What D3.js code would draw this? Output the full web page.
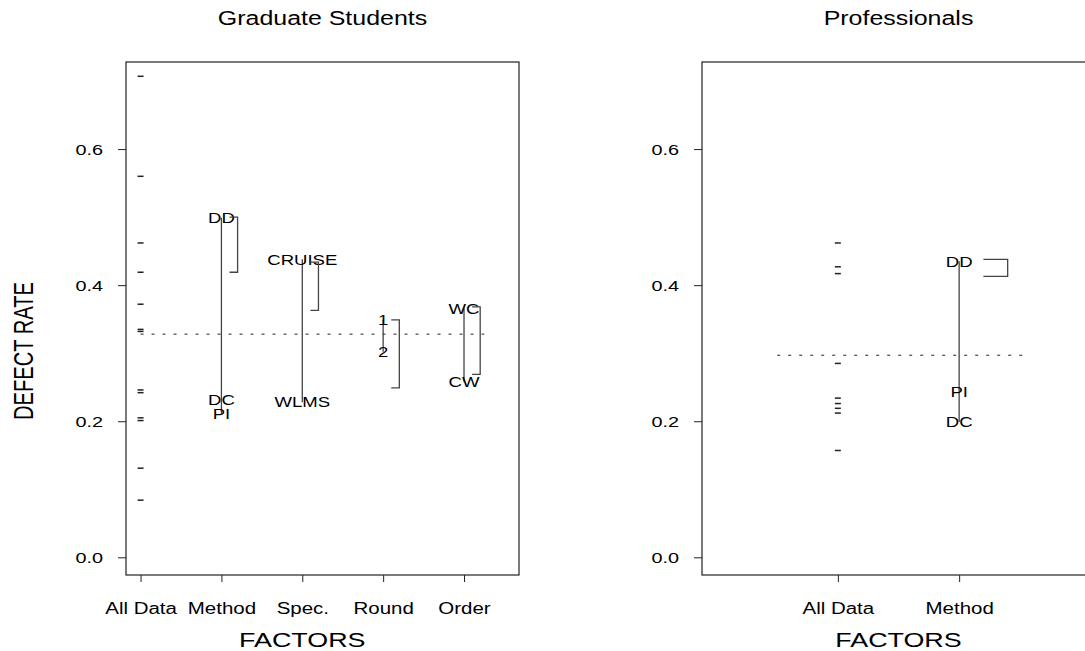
<!DOCTYPE html>
<html>
<head>
<meta charset="utf-8">
<script src="https://cdn.jsdelivr.net/npm/d3@7"></script>
<style>
  body { margin: 0; background: #fff; }
  svg { display: block; }
  text { font-family: "Liberation Sans", Arial, Helvetica, sans-serif; fill: #000; }
</style>
</head>
<body>
<script>
// design plot data
var gradFactors = ["All Data", "Method", "Spec.", "Round", "Order"];
var gradAllData = [0.707, 0.560, 0.462, 0.419, 0.372, 0.335, 0.332, 0.246, 0.242, 0.205, 0.201, 0.131, 0.084];
var gradLevelNames = [["DD", "DC", "PI"], ["CRUISE", "WLMS"], ["1", "2"], ["WC", "CW"]];
var gradLevelMeans = [[0.499, 0.231, 0.211], [0.438, 0.228], [0.349, 0.302], [0.366, 0.258]];
var gradBrackets = [[0.500, 0.419], [0.434, 0.363], [0.349, 0.249], [0.368, 0.269]];
var gradMean = 0.328;

var profFactors = ["All Data", "Method"];
var profAllData = [0.462, 0.427, 0.417, 0.285, 0.234, 0.226, 0.219, 0.212, 0.157];
var profLevelNames = [["DD", "PI", "DC"]];
var profLevelMeans = [[0.435, 0.243, 0.199]];
var profBrackets = [[0.438, 0.413]];
var profMean = 0.297;

var yTicks = [0.0, 0.2, 0.4, 0.6];

(function(window){
    'use strict'

    var W = 1085, H = 651;
    var SX = 1.28;   // the picture's text is stretched sideways
    var top = 62, bottom = 575;

    var svg = d3.select("body").append("svg")
        .attr("width", W)
        .attr("height", H);

    function wideText(sel, x, y, str, size, anchor) {
        return sel.append("text")
            .attr("transform", "translate(" + x + "," + y + ") scale(" + SX + ",1)")
            .attr("text-anchor", anchor || "middle")
            .style("font-size", size + "px")
            .text(str);
    }

    var y = d3.scaleLinear().domain([-0.026, 0.728]).range([bottom, top]);

    function drawPanel(p) {
        var g = svg.append("g");
        var x = d3.scaleLinear().domain(p.xDomain).range([p.left, p.right]);

        // y axis
        g.append("g")
            .attr("transform", "translate(" + p.left + ",0)")
            .call(d3.axisLeft(y).tickValues(yTicks).tickSize(8).tickFormat(d3.format(".1f")))
            .call(function(a) {
                a.select(".domain").remove();
                a.selectAll(".tick line").attr("stroke", "#222");
                a.selectAll(".tick text")
                    .attr("x", -23 / SX)
                    .attr("dy", "0.36em")
                    .attr("transform", "scale(" + SX + ",1)")
                    .style("font-size", "15.5px")
                    .style("font-family", null);
            });

        // x axis
        g.append("g")
            .attr("transform", "translate(0," + bottom + ")")
            .call(d3.axisBottom(x).tickValues(d3.range(1, p.factors.length + 1)).tickSize(7)
                .tickFormat(function(d) { return p.factors[d - 1]; }))
            .call(function(a) {
                a.select(".domain").remove();
                a.selectAll(".tick line").attr("stroke", "#222");
                a.selectAll(".tick text")
                    .attr("y", 39)
                    .attr("dy", 0)
                    .attr("transform", "scale(" + SX + ",1)")
                    .style("font-size", "16px")
                    .style("font-family", null);
            });

        // box
        g.append("rect")
            .attr("x", p.left).attr("y", top)
            .attr("width", p.right - p.left).attr("height", bottom - top)
            .attr("fill", "none").attr("stroke", "#222").attr("stroke-width", 1.2);

        // overall mean
        g.append("line")
            .attr("x1", x(p.meanSpan[0])).attr("x2", x(p.meanSpan[1]))
            .attr("y1", y(p.mean)).attr("y2", y(p.mean))
            .attr("stroke", "#222").attr("stroke-width", 1)
            .attr("stroke-dasharray", "3,8");

        // all data dashes
        g.selectAll(".obs").data(p.allData).enter().append("line")
            .attr("x1", x(1) - 3).attr("x2", x(1) + 3)
            .attr("y1", function(d) { return y(d); })
            .attr("y2", function(d) { return y(d); })
            .attr("stroke", "#222").attr("stroke-width", 1.5);

        // factor levels
        p.levelNames.forEach(function(names, i) {
            var xi = x(i + 2), vals = p.levelMeans[i];
            g.append("line")
                .attr("x1", xi).attr("x2", xi)
                .attr("y1", y(d3.max(vals))).attr("y2", y(d3.min(vals)))
                .attr("stroke", "#444").attr("stroke-width", 1.3);
            names.forEach(function(n, j) {
                wideText(g, xi, y(vals[j]), n, 14.5).attr("dy", "0.36em");
            });

            var b = p.brackets[i];
            var bx0 = x(i + 2 + p.bracketArm[0]), bx1 = x(i + 2 + p.bracketArm[1]);
            g.append("path")
                .attr("d", "M" + bx0 + "," + y(b[0]) + "H" + bx1 + "V" + y(b[1]) + "H" + bx0)
                .attr("fill", "none").attr("stroke", "#444").attr("stroke-width", 1.3);
        });

        wideText(g, (p.left + p.right) / 2, 25, p.title, 19.5);
        wideText(g, x(p.labelAt), 647, "FACTORS", 21);
    }

    drawPanel({
        title: "Graduate Students", left: 126, right: 519, xDomain: [0.82, 5.68],
        factors: gradFactors, allData: gradAllData, levelNames: gradLevelNames,
        levelMeans: gradLevelMeans, brackets: gradBrackets, mean: gradMean,
        meanSpan: [1, 5.25], bracketArm: [0.1, 0.2], labelAt: 3
    });

    drawPanel({
        title: "Professionals", left: 702, right: 1095, xDomain: [-0.12, 3.12],
        factors: profFactors, allData: profAllData, levelNames: profLevelNames,
        levelMeans: profLevelMeans, brackets: profBrackets, mean: profMean,
        meanSpan: [0.5, 2.52], bracketArm: [0.2, 0.4], labelAt: 1.5
    });

    // shared y label
    svg.append("text")
        .attr("transform", "translate(33,351) rotate(-90) scale(1," + SX + ")")
        .attr("text-anchor", "middle")
        .attr("textLength", 138)
        .attr("lengthAdjust", "spacingAndGlyphs")
        .style("font-family", "'Liberation Sans Narrow', 'Liberation Sans', sans-serif")
        .style("font-size", "21px")
        .text("DEFECT RATE");

})(window);
</script>
</body>
</html>
